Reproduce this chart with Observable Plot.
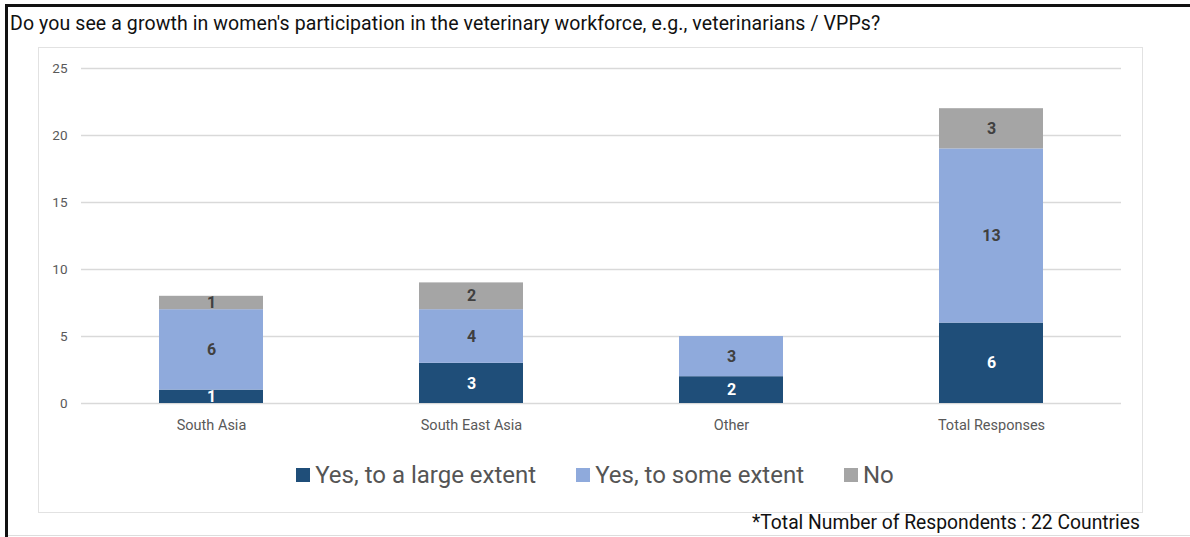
<!DOCTYPE html>
<html>
<head>
<meta charset="utf-8">
<script src="https://cdn.jsdelivr.net/npm/d3@7"></script>
<script src="https://cdn.jsdelivr.net/npm/@observablehq/plot@0.6"></script>
<style>
  html, body { margin: 0; padding: 0; background: #fff; }
  body { width: 1190px; height: 537px; position: relative; overflow: hidden; font-family: Roboto, "Open Sans", sans-serif; }
  #frame { position: absolute; left: 5px; top: 4px; width: 1200px; height: 560px; border-top: 3px solid #111; border-left: 3px solid #111; }
  #title { position: absolute; left: 10px; top: 12px; font-size: 19.5px; color: #111; white-space: nowrap; letter-spacing: 0.1px; }
  #inner { position: absolute; left: 38px; top: 47px; width: 1103px; height: 464px; border: 1.5px solid #e2e2e2; }
  #chart { position: absolute; left: 0; top: 48px; }
  #legend { position: absolute; left: 0; width: 1190px; top: 461px; text-align: center; font-size: 24px; color: #555; white-space: nowrap; }
  #legend span.item { margin: 0 20px; }
  #legend span.sw { display: inline-block; width: 14px; height: 14px; margin-right: 5px; vertical-align: 1px; }
  #foot { position: absolute; right: 50px; top: 511px; font-size: 19.3px; color: #111; white-space: nowrap; }
  #bottomline { position: absolute; left: 8px; top: 535px; width: 1190px; border-top: 1px solid #ddd; }
</style>
</head>
<body>
<div id="frame"></div>
<div id="title">Do you see a growth in women's participation in the veterinary workforce, e.g., veterinarians / VPPs?</div>
<div id="inner"></div>
<div id="chart"></div>
<div id="legend"></div>
<div id="foot">*Total Number of Respondents : 22 Countries</div>
<div id="bottomline"></div>
<script>
const categories = ["South Asia", "South East Asia", "Other", "Total Responses"];
const seriesNames = ["Yes, to a large extent", "Yes, to some extent", "No"];
const largeExtent = [1, 3, 2, 6];
const someExtent = [6, 4, 3, 13];
const noValues = [1, 2, 0, 3];
const yTicks = [0, 5, 10, 15, 20, 25];
const colors = ["#1f4e79", "#8faadc", "#a5a5a5"];
const labelColors = ["#ffffff", "#404040", "#404040"];

const seriesValues = [largeExtent, someExtent, noValues];
const rows = [];
seriesNames.forEach((s, si) => {
  categories.forEach((c, ci) => {
    rows.push({category: c, series: s, value: seriesValues[si][ci], si});
  });
});
const labelRows = rows.filter(d => d.value > 0);

const chart = Plot.plot({
  width: 1190,
  height: 400,
  marginTop: 20,
  marginBottom: 45,
  marginLeft: 81,
  marginRight: 69,
  style: {fontFamily: "Roboto, 'Open Sans', sans-serif", fontSize: "14.5px", color: "#595959", background: "transparent"},
  x: {domain: categories, paddingInner: 0.6, paddingOuter: 0.3, label: null, tickSize: 0, tickPadding: 16},
  y: {domain: [0, 25], ticks: yTicks, label: null, tickSize: 0, tickPadding: 14, grid: false},
  color: {domain: seriesNames, range: colors},
  marks: [
    Plot.gridY(yTicks, {stroke: "#d9d9d9", strokeOpacity: 1, strokeWidth: 1.5}),
    Plot.barY(rows, Plot.stackY({x: "category", y: "value", fill: "series", order: seriesNames})),
    Plot.text(labelRows, Plot.stackY({
      x: "category", y: "value", z: "series", order: seriesNames,
      text: d => String(d.value),
      fill: d => labelColors[d.si],
      fontWeight: "bold", fontSize: 16
    }))
  ]
});
chart.querySelectorAll("[aria-label='y-axis tick label'] text").forEach(t => t.setAttribute("font-size", "13.5"));
document.getElementById("chart").appendChild(chart);

const legend = document.getElementById("legend");
seriesNames.forEach((s, i) => {
  const item = document.createElement("span");
  item.className = "item";
  const sw = document.createElement("span");
  sw.className = "sw";
  sw.style.background = colors[i];
  item.appendChild(sw);
  item.appendChild(document.createTextNode(s));
  legend.appendChild(item);
});
</script>
</body>
</html>
